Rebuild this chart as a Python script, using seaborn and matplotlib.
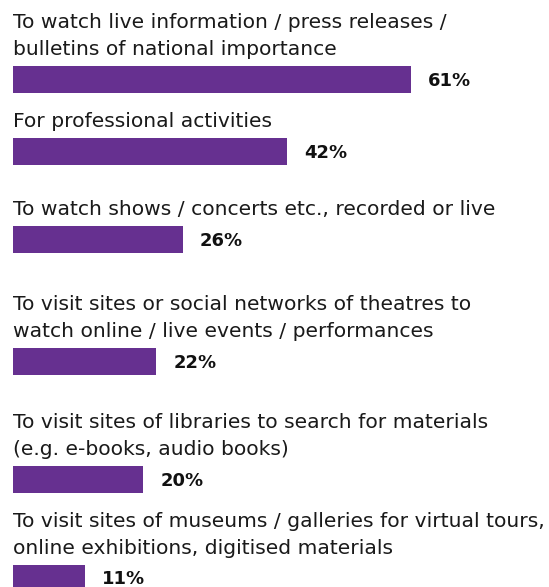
import matplotlib
matplotlib.use("Agg")
import matplotlib.pyplot as plt
import seaborn as sns
import pandas as pd

# Survey answers: reasons for using the internet
reasons = [
    "To watch live information / press releases /\nbulletins of national importance",
    "For professional activities",
    "To watch shows / concerts etc., recorded or live",
    "To visit sites or social networks of theatres to\nwatch online / live events / performances",
    "To visit sites of libraries to search for materials\n(e.g. e-books, audio books)",
    "To visit sites of museums / galleries for virtual tours,\nonline exhibitions, digitised materials",
]
shares = [61, 42, 26, 22, 20, 11]
share_labels = [f"{v}%" for v in shares]

# Layout (pixels on a 549x587 canvas)
W, H = 549, 587
bar_tops = [66, 138, 226, 348, 466, 565]
bar_h = 27
x0_px = 13
px_per_pct = 6.52
line_gap = 27
label_gap = 11
value_pad = 17
purple = "#663090"

sns.set_theme(style="white")
plt.rcParams["font.family"] = ["DejaVu Sans"]

fig = plt.figure(figsize=(W / 100, H / 100), dpi=100)
ax = fig.add_axes([0, 0, 1, 1])

centers = [t + bar_h / 2 for t in bar_tops]
df = pd.DataFrame({"reason": reasons, "share": shares, "pos": centers})

min_gap = min(b - a for a, b in zip(centers[:-1], centers[1:]))
sns.barplot(data=df, x="share", y="pos", orient="h", native_scale=True,
            width=bar_h / min_gap, color=purple, saturation=1,
            linewidth=0, ax=ax, errorbar=None)

ax.set_xlim(-x0_px / px_per_pct, (W - x0_px) / px_per_pct)
ax.set_ylim(H, 0)
ax.axis("off")

for reason, share, lab, top, c in zip(reasons, shares, share_labels, bar_tops, centers):
    lines = reason.split("\n")
    n = len(lines)
    for i, line in enumerate(lines):
        y = top - label_gap - (n - 1 - i) * line_gap
        ax.text(0, y, line, fontsize=14.6, color="#1a1a1a", ha="left", va="baseline")
    ax.text(share + value_pad / px_per_pct, c + 1, lab, fontsize=13, fontweight="bold",
            color="#111111", ha="left", va="center")

fig.savefig("out.png", dpi=100)
